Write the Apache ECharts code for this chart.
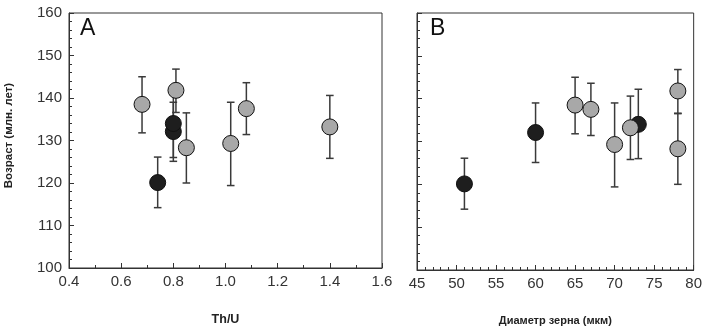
<!DOCTYPE html>
<html><head><meta charset="utf-8">
<script src="https://cdn.jsdelivr.net/npm/echarts@6/dist/echarts.min.js"></script>
<style>html,body{margin:0;padding:0;background:#fff}#c{width:705px;height:331px}</style>
</head><body><div id="c"></div>
<script>
// Data (black points first so grey ones draw on top)
const thU      = [0.74, 0.80, 0.80, 0.68, 0.81, 0.85, 1.02, 1.08, 1.40];
const diameter = [51, 60, 73, 65, 78, 78, 70, 67, 72];
const age      = [120.1, 132.1, 134.0, 138.5, 141.8, 128.3, 129.3, 137.5, 133.2];
const errLow   = [114.2, 125.1, 126.0, 131.8, 136.6, 120.0, 119.4, 131.4, 125.8];
const errHigh  = [126.1, 139.0, 142.2, 145.0, 146.8, 136.5, 139.0, 143.6, 140.6];
const group    = ['black','black','black','gray','gray','gray','gray','gray','gray'];

const yTicks  = [100, 110, 120, 130, 140, 150, 160];
const xTicksA = [0.4, 0.6, 0.8, 1.0, 1.2, 1.4, 1.6];
const xTicksB = [45, 50, 55, 60, 65, 70, 75, 80];

const panelA = 'A', panelB = 'B';
const yTitle = 'Возраст (млн. лет)';
const xTitleA = 'Th/U';
const xTitleB = 'Диаметр зерна (мкм)';

const FILL = {black:'#1e1e1e', gray:'#a8a8a8'};
const AX = '#333333';
const FONT = 'Liberation Sans, Arial, sans-serif';

function errRender(params, api){
  const x = api.value(0), lo = api.value(1), hi = api.value(2);
  const a = api.coord([x, lo]), b = api.coord([x, hi]);
  const w = 3.8;
  const style = {stroke:'#3a3a3a', lineWidth:1.5};
  return {type:'group', children:[
    {type:'line', shape:{x1:a[0], y1:a[1], x2:b[0], y2:b[1]}, style},
    {type:'line', shape:{x1:a[0]-w, y1:a[1], x2:a[0]+w, y2:a[1]}, style},
    {type:'line', shape:{x1:b[0]-w, y1:b[1], x2:b[0]+w, y2:b[1]}, style}
  ]};
}

function xAxisCfg(idx, ticks, minorSplit, title, titleSize, fmt){
  return {
    type:'value', gridIndex: idx,
    min: ticks[0], max: ticks[ticks.length-1], interval: ticks[1]-ticks[0],
    axisLine:{show:true, lineStyle:{color:AX, width:1}},
    axisTick:{show:true, inside:true, length:5, lineStyle:{color:AX}},
    minorTick:{show:true, splitNumber:minorSplit, length:3, lineStyle:{color:AX}},
    splitLine:{show:false}, minorSplitLine:{show:false},
    axisLabel:{color:'#333', fontSize:15, fontFamily:FONT, margin:6, formatter:fmt,
               showMinLabel:true, showMaxLabel:true},
    name: title, nameLocation:'middle', nameGap: 45,
    nameTextStyle:{color:'#222', fontSize:titleSize, fontWeight:'bold', fontFamily:FONT}
  };
}
function yAxisCfg(idx, showLabels){
  return {
    type:'value', gridIndex: idx,
    min: yTicks[0], max: yTicks[yTicks.length-1], interval: yTicks[1]-yTicks[0],
    axisLine:{show:true, lineStyle:{color:AX, width:1}},
    axisTick:{show:true, inside:true, length:5, lineStyle:{color:AX}},
    minorTick:{show:true, splitNumber:5, length:3, lineStyle:{color:AX}},
    splitLine:{show:false}, minorSplitLine:{show:false},
    axisLabel:{show:showLabels, color:'#333', fontSize:15, fontFamily:FONT, margin:7},
    name: showLabels ? yTitle : '', nameLocation:'middle', nameGap: 54,
    nameTextStyle:{color:'#222', fontSize:11.5, fontWeight:'bold', fontFamily:FONT, padding:[0,0,0,10]}
  };
}

const errA = thU.map((x,i)=>[x, errLow[i], errHigh[i]]);
const errB = diameter.map((x,i)=>[x, errLow[i], errHigh[i]]);
const ptsA = thU.map((x,i)=>({value:[x, age[i]], itemStyle:{color:FILL[group[i]]}}));
const ptsB = diameter.map((x,i)=>({value:[x, age[i]], itemStyle:{color:FILL[group[i]]}}));

const chart = echarts.init(document.getElementById('c'), null, {renderer:'canvas'});
chart.setOption({
  animation:false,
  backgroundColor:'#fff',
  grid:[
    {left:69, top:13, width:313, height:259, show:true, borderColor:AX, borderWidth:1, backgroundColor:'transparent'},
    {left:417, top:13, width:277, height:259, show:true, borderColor:AX, borderWidth:1, backgroundColor:'transparent'}
  ],
  xAxis:[
    xAxisCfg(0, xTicksA, 2, xTitleA, 12.5, v=>v.toFixed(1)),
    xAxisCfg(1, xTicksB, 5, xTitleB, 11, v=>String(v))
  ],
  yAxis:[ yAxisCfg(0, true), yAxisCfg(1, false) ],
  graphic:[
    {type:'text', left:80, top:17, style:{text:panelA, fontSize:23, fontFamily:FONT, fill:'#111'}},
    {type:'text', left:430, top:17, style:{text:panelB, fontSize:23, fontFamily:FONT, fill:'#111'}}
  ],
  series:[
    {type:'custom', xAxisIndex:0, yAxisIndex:0, renderItem:errRender, data:errA, encode:{x:0, y:[1,2]}, z:2, silent:true},
    {type:'custom', xAxisIndex:1, yAxisIndex:1, renderItem:errRender, data:errB, encode:{x:0, y:[1,2]}, z:2, silent:true},
    {type:'scatter', xAxisIndex:0, yAxisIndex:0, data:ptsA, symbol:'circle', symbolSize:16,
     itemStyle:{borderColor:'#111', borderWidth:1, opacity:1}, z:3},
    {type:'scatter', xAxisIndex:1, yAxisIndex:1, data:ptsB, symbol:'circle', symbolSize:16,
     itemStyle:{borderColor:'#111', borderWidth:1, opacity:1}, z:3}
  ]
});
</script></body></html>
